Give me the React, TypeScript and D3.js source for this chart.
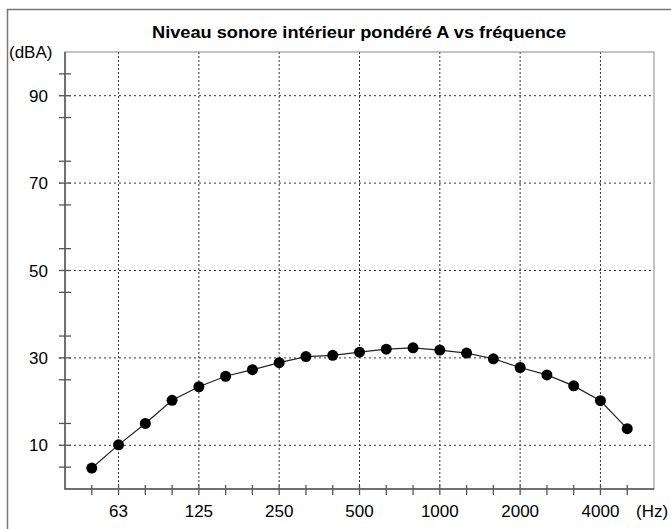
import * as d3 from "d3";
import React, { useEffect, useRef } from "react";

// third-octave bands (Hz)
const bands = [
  "50", "63", "80", "100", "125", "160", "200", "250", "315", "400", "500",
  "630", "800", "1000", "1250", "1600", "2000", "2500", "3150", "4000", "5000",
];
// A-weighted interior level (dBA)
const levels = [
  4.8, 10.1, 15.0, 20.3, 23.4, 25.8, 27.3, 28.9, 30.3, 30.6, 31.3,
  32.0, 32.3, 31.8, 31.1, 29.8, 27.8, 26.1, 23.6, 20.2, 13.8,
];
const xLabels = ["63", "125", "250", "500", "1000", "2000", "4000"];
const yLabels = [10, 30, 50, 70, 90];
const yMinor = [5, 15, 25, 35, 45, 55, 65, 75, 85, 95];

const title = "Niveau sonore intérieur pondéré A vs fréquence";

const W = 671;
const H = 529;

const App = () => {
  const ref = useRef<SVGSVGElement>(null);

  useEffect(() => {
    const svg = d3.select(ref.current);
    svg.selectAll("*").remove();

    const left = 65, right = 654, top = 52, bottom = 489;
    const font = "'Liberation Sans', Arial, sans-serif";
    const axisCol = "#555";
    const gridCol = "#333";

    const x = d3.scalePoint<string>().domain(bands).range([left, right]).padding(1);
    const y = d3.scaleLinear().domain([0, 100]).range([bottom, top]);

    // outer frame
    svg.append("path")
      .attr("d", `M7.5,${H} L7.5,9.5 L${W},9.5`)
      .attr("fill", "none")
      .attr("stroke", "#777")
      .attr("stroke-width", 1.5);

    svg.append("text")
      .attr("x", 152)
      .attr("y", 37.5)
      .attr("font-family", font)
      .attr("font-weight", "bold")
      .attr("font-size", 16)
      .attr("textLength", 414)
      .attr("lengthAdjust", "spacingAndGlyphs")
      .text(title);

    // grid
    const g = svg.append("g");
    g.selectAll(".hg")
      .data(yLabels)
      .enter()
      .append("line")
      .attr("x1", left - 6)
      .attr("x2", right)
      .attr("y1", (d) => y(d))
      .attr("y2", (d) => y(d))
      .attr("stroke", gridCol)
      .attr("stroke-width", 1)
      .attr("stroke-dasharray", "2,3");
    g.selectAll(".vg")
      .data(xLabels)
      .enter()
      .append("line")
      .attr("x1", (d) => x(d)!)
      .attr("x2", (d) => x(d)!)
      .attr("y1", top)
      .attr("y2", bottom)
      .attr("stroke", gridCol)
      .attr("stroke-width", 1)
      .attr("stroke-dasharray", "2,2");

    // plot box
    svg.append("rect")
      .attr("x", left)
      .attr("y", top)
      .attr("width", right - left)
      .attr("height", bottom - top)
      .attr("fill", "none")
      .attr("stroke", "#888")
      .attr("stroke-width", 1);
    svg.append("path")
      .attr("d", `M${left},${top} L${left},${bottom} L${right},${bottom}`)
      .attr("fill", "none")
      .attr("stroke", axisCol)
      .attr("stroke-width", 1.5);

    // y ticks
    g.selectAll(".yt")
      .data([...yLabels, ...yMinor])
      .enter()
      .append("line")
      .attr("x1", left - 6)
      .attr("x2", left + 6)
      .attr("y1", (d) => y(d))
      .attr("y2", (d) => y(d))
      .attr("stroke", axisCol)
      .attr("stroke-width", 1.3);
    g.selectAll(".yl")
      .data(yLabels)
      .enter()
      .append("text")
      .attr("x", 48)
      .attr("y", (d) => y(d) + 6)
      .attr("text-anchor", "end")
      .attr("font-family", font)
      .attr("font-size", 17)
      .text((d) => d);

    // x ticks
    g.selectAll(".xt")
      .data(bands)
      .enter()
      .append("line")
      .attr("x1", (d) => x(d)!)
      .attr("x2", (d) => x(d)!)
      .attr("y1", bottom - 4)
      .attr("y2", bottom + 6)
      .attr("stroke", axisCol)
      .attr("stroke-width", 1.3);
    g.selectAll(".xl")
      .data(xLabels)
      .enter()
      .append("text")
      .attr("x", (d) => x(d)!)
      .attr("y", bottom + 28)
      .attr("text-anchor", "middle")
      .attr("font-family", font)
      .attr("font-size", 17)
      .text((d) => d);

    svg.append("text")
      .attr("x", 9)
      .attr("y", 58)
      .attr("font-family", font)
      .attr("font-size", 17)
      .text("(dBA)");
    svg.append("text")
      .attr("x", 636)
      .attr("y", bottom + 28)
      .attr("font-family", font)
      .attr("font-size", 17)
      .text("(Hz)");

    // series
    const pts = bands.map((b, i) => ({ b, v: levels[i] }));
    const line = d3.line<{ b: string; v: number }>()
      .x((d) => x(d.b)!)
      .y((d) => y(d.v));
    svg.append("path")
      .datum(pts)
      .attr("d", line)
      .attr("fill", "none")
      .attr("stroke", "#222")
      .attr("stroke-width", 1.2);
    svg.selectAll(".pt")
      .data(pts)
      .enter()
      .append("circle")
      .attr("cx", (d) => x(d.b)!)
      .attr("cy", (d) => y(d.v))
      .attr("r", 5.5)
      .attr("fill", "#000");
  }, []);

  return (
    <svg
      ref={ref}
      width={W}
      height={H}
      style={{ position: "absolute", left: 0, top: 0, background: "#fff" }}
    />
  );
};

export default App;
